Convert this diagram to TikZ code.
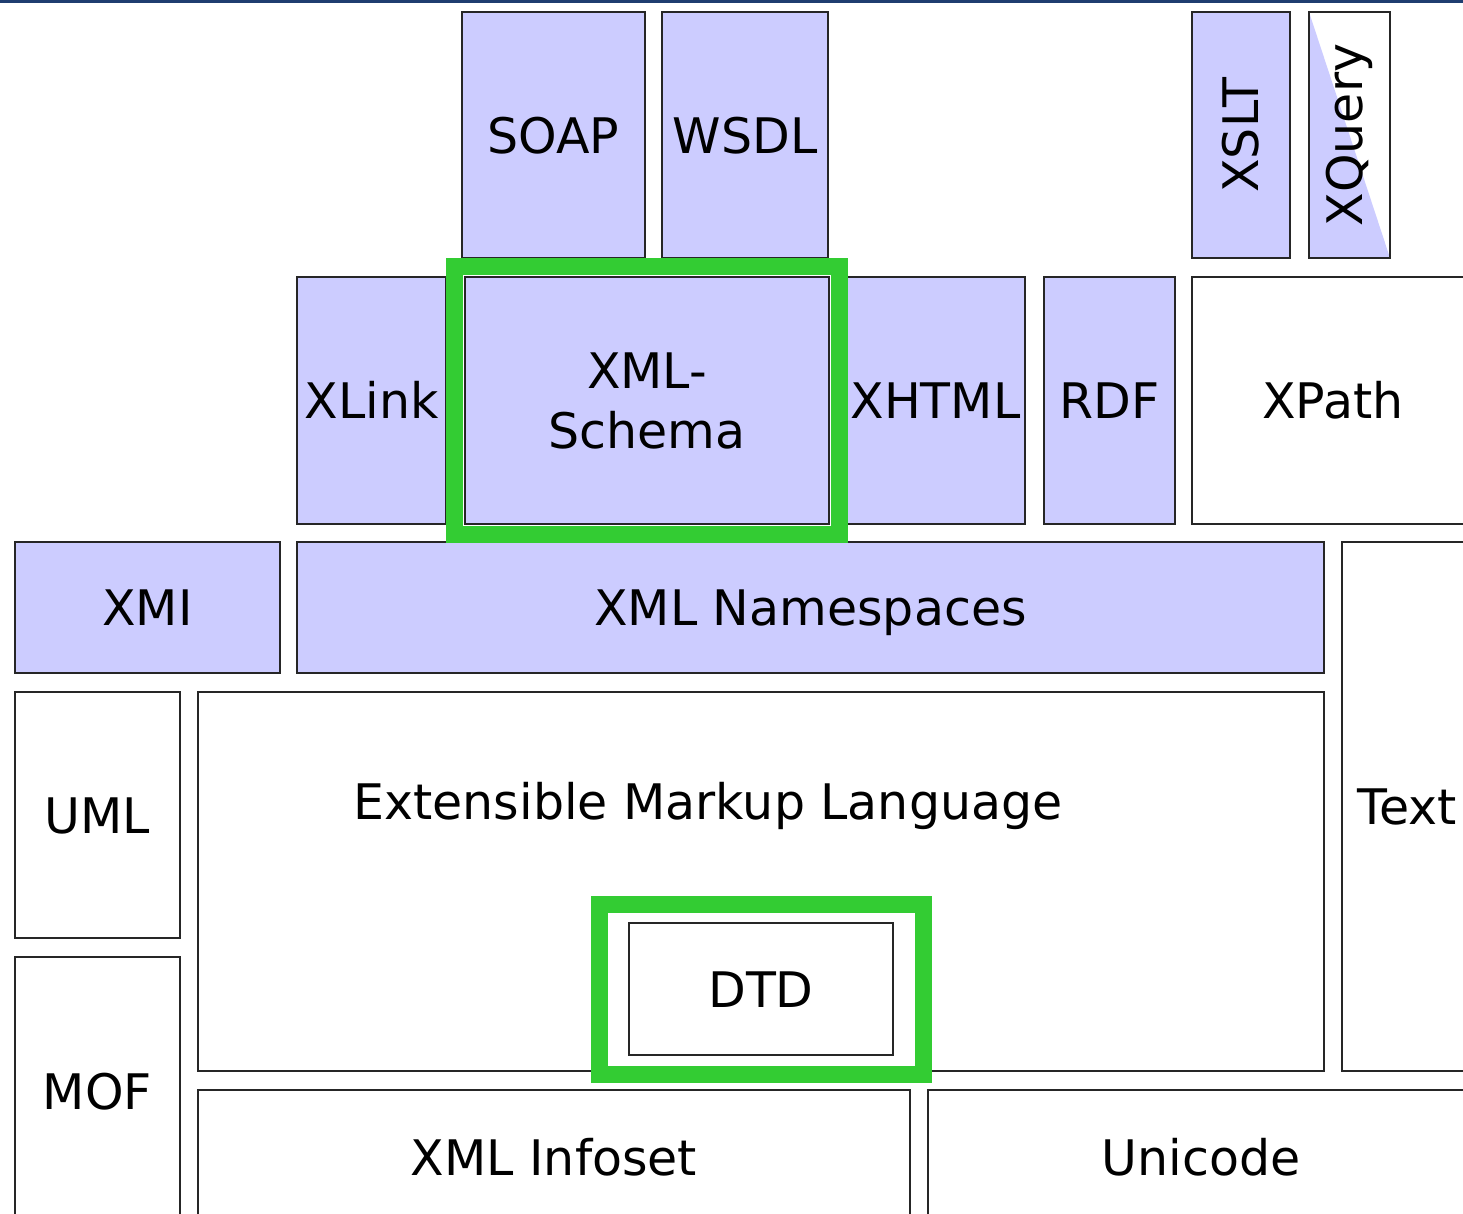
\documentclass[tikz,border=0pt]{standalone}
\usepackage{fontspec}
\setmainfont{DejaVu Sans}
\usetikzlibrary{fit}
\definecolor{lav}{RGB}{204,204,255}
\definecolor{hiligreen}{RGB}{51,204,51}
\definecolor{topnavy}{RGB}{31,61,112}
\begin{document}
\begin{tikzpicture}[x=1pt,y=-1pt,
		box/.style={draw=black!85,line width=2pt,anchor=north west,inner sep=0pt,align=center,
			text height=36pt,text depth=0pt,font=\fontsize{49}{60}\selectfont},
		lbox/.style={box,fill=lav},
		wbox/.style={box,fill=white},
		natural/.style={text height={},text depth={}},
		hilite/.style={draw=hiligreen,line width=17pt}]
		\clip (0,0) rectangle (1463,1213);
		\fill[topnavy] (0,0) rectangle (1463,2.5);
		% top row
		\node[lbox,minimum width=183pt,minimum height=246pt] (soap) at (461,11) {SOAP};
		\node[lbox,minimum width=166pt,minimum height=246pt] (wsdl) at (661,11) {WSDL};
		\node[lbox,natural,minimum width=98pt,minimum height=246pt] (xslt) at (1191,11) {\rotatebox{90}{XSLT}};
		\node[wbox,natural,minimum width=81pt,minimum height=246pt,
			path picture={\fill[lav] (path picture bounding box.north west) -- (path picture bounding box.south east) -- (path picture bounding box.south west) -- cycle;}]
			(xquery) at (1308,11) {\rotatebox{90}{XQuery}};
		% second row
		\node[lbox,minimum width=149pt,minimum height=247pt] (xlink) at (296,276) {XLink};
		\node[lbox,natural,minimum width=364pt,minimum height=247pt] (schema) at (464,276) {XML-\\Schema};
		\node[lbox,minimum width=179pt,minimum height=247pt] (xhtml) at (845,276) {XHTML};
		\node[lbox,minimum width=131pt,minimum height=247pt] (rdf) at (1043,276) {RDF};
		\node[wbox,minimum width=282pt,minimum height=247pt] (xpath) at (1191,276) {XPath};
		% third row
		\node[lbox,minimum width=265pt,minimum height=131pt] (xmi) at (14,541) {XMI};
		\node[lbox,minimum width=1027pt,minimum height=131pt] (ns) at (296,541) {XML Namespaces};
		\node[wbox,minimum width=130pt,minimum height=529pt] (text) at (1341,541) {Text};
		% lower part
		\node[wbox,minimum width=165pt,minimum height=246pt] (uml) at (14,691) {UML};
		\node[wbox,minimum width=1126pt,minimum height=379pt] (xml) at (197,691) {};
		\node[font=\fontsize{49}{60}\selectfont,inner sep=0pt,text height=36pt,text depth=0pt] (xmltext) at (708,801.5) {Extensible Markup Language};
		\node[wbox,minimum width=264pt,minimum height=132pt] (dtd) at (628,922) {DTD};
		\node[wbox,minimum width=165pt,minimum height=268pt] (mof) at (14,956) {MOF};
		\node[wbox,minimum width=712pt,minimum height=134pt] (infoset) at (197,1089) {XML Infoset};
		\node[wbox,minimum width=546pt,minimum height=134pt] (unicode) at (927,1089) {Unicode};
		% highlights
		\node[hilite,fit=(schema),inner sep=9.5pt] (schemamark) {};
		\node[hilite,fit=(dtd),inner xsep=29pt,inner ysep=18pt] (dtdmark) {};
\end{tikzpicture}
\end{document}
